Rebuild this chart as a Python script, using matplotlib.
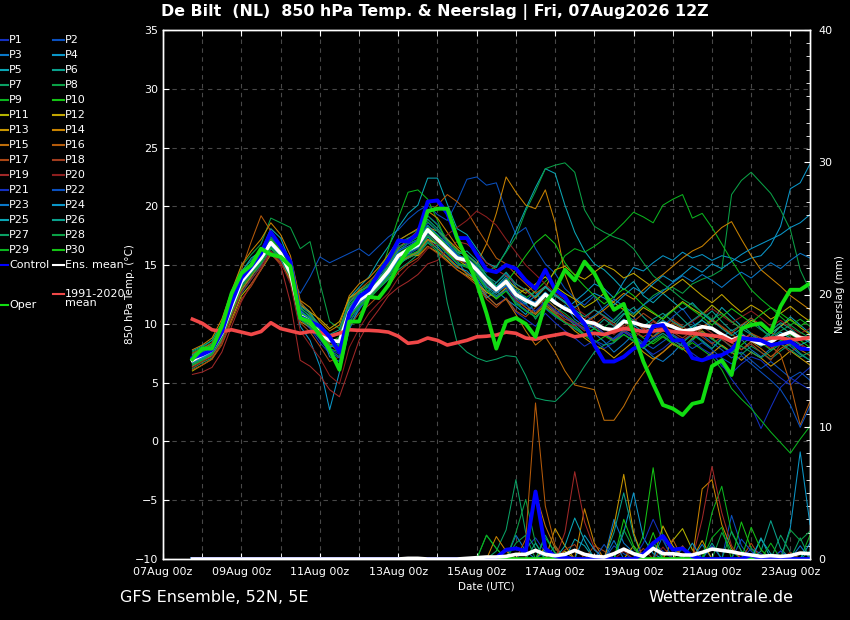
import pandas as pd
import matplotlib
matplotlib.use('Agg')
import matplotlib.pyplot as plt
import matplotlib.dates as mdates
from matplotlib.lines import Line2D
from matplotlib.ticker import MultipleLocator

# GFS ensemble De Bilt, run 07Aug2026 12Z, 6-hourly from 07Aug 18z to 23Aug 12z
times = pd.date_range('2026-08-07 18:00', periods=64, freq='6h')
rr_start = 26  # member precip listed from 14Aug 06z on (zero before)

member_names = ['P%d' % k for k in range(1, 31)]
cols_a = ['#1430c0', '#0a50be', '#0a78c8', '#0a96c8', '#0aa5b4',
          '#0aa08c', '#0aa064', '#0aa046', '#0ab41e', '#14c314']
cols_b = ['#b4b400', '#c3a500', '#c89600', '#c88200', '#be6e0a',
          '#b45a0a', '#aa4614', '#a03c1e', '#a02828', '#8c1e1e']
member_colors = cols_a + cols_b + cols_a

# 850 hPa temperature (C)
t01 = [6.6,7.1,7.6,8.9,11.2,13.4,14.6,15.9,17.6,16.8,15.0,10.4,9.6,8.4,7.5,7.9,
       10.6,12.2,13.0,14.1,15.2,16.6,17.0,17.9,19.2,18.5,16.9,15.8,15.0,13.8,12.4,11.6,
       12.2,11.0,10.4,9.8,10.9,10.1,9.4,8.8,8.1,8.6,7.9,8.4,9.3,8.8,8.0,7.4,
       7.9,8.6,8.2,7.5,6.9,7.6,6.4,5.8,6.6,7.2,6.9,6.1,5.4,4.8,5.6,6.3]
t02 = [7.2,7.6,8.0,9.5,11.8,13.6,14.4,15.1,16.0,15.4,14.0,12.6,14.0,15.7,15.2,15.6,
       16.0,16.4,15.8,16.6,17.4,18.0,18.9,19.6,20.1,19.3,18.8,20.4,22.3,22.5,21.8,22.0,
       19.6,17.6,18.2,16.4,15.1,14.3,13.0,12.2,11.6,12.4,11.0,10.3,11.2,10.6,9.4,8.9,
       9.8,10.6,11.3,10.2,9.1,8.4,7.8,7.1,7.6,6.9,6.2,6.8,6.1,5.4,5.9,5.2]
t03 = [6.4,6.9,7.3,8.6,10.8,12.6,13.8,14.9,16.4,15.8,14.6,11.2,10.3,9.4,7.2,6.8,
       9.8,11.2,12.4,13.2,14.4,15.1,15.6,16.2,17.1,16.8,16.0,15.4,14.2,13.9,12.6,13.5,
       14.3,13.2,11.9,12.8,11.4,10.8,11.6,10.4,9.8,9.2,8.5,7.6,8.3,9.1,8.0,7.2,
       6.8,7.5,8.4,9.2,8.6,7.9,8.8,9.5,8.7,7.8,7.2,7.9,8.6,8.1,7.4,6.9]
t04 = [6.9,7.2,7.5,8.7,11.0,12.9,14.0,15.2,16.6,15.5,13.6,9.8,8.6,6.4,2.7,5.9,
       9.5,11.4,12.1,13.0,13.8,14.9,15.8,16.1,17.4,16.6,15.6,14.8,14.5,13.6,12.2,12.8,
       12.1,11.5,10.8,11.9,12.7,12.0,11.2,11.9,12.6,13.4,13.0,12.2,13.6,14.8,14.5,15.2,
       15.8,15.4,16.1,15.6,15.9,15.4,15.8,15.6,15.2,15.6,15.8,16.7,18.3,21.5,22.0,23.6]
t05 = [7.4,7.9,8.3,9.8,12.2,14.4,15.6,16.2,18.1,17.3,15.2,11.8,11.0,9.6,8.0,8.8,
       12.2,13.1,14.0,15.4,16.6,18.2,19.4,20.1,22.4,22.4,20.2,18.1,17.6,16.4,15.2,14.8,
       16.2,17.9,19.8,21.6,23.2,22.8,20.1,17.8,16.2,15.1,14.6,13.8,12.9,13.6,12.4,11.8,
       12.6,11.9,11.2,11.8,10.9,10.2,11.4,10.6,9.8,10.5,9.6,8.9,9.8,10.6,9.9,9.2]
t06 = [7.0,7.4,8.1,9.4,11.9,13.9,14.8,15.8,17.2,16.3,14.9,11.4,10.6,9.8,8.9,8.2,
       11.4,12.6,12.9,13.8,14.9,16.3,16.8,17.2,18.4,17.6,16.6,15.9,16.2,15.4,14.1,13.2,
       14.1,12.8,12.3,10.9,11.8,11.0,10.6,9.9,9.1,9.6,10.4,9.8,10.8,11.4,10.6,9.8,
       10.6,11.2,10.4,9.6,10.4,11.1,10.2,9.4,9.9,9.2,8.6,9.4,10.1,9.6,8.9,8.4]
t07 = [6.2,6.7,7.1,8.5,10.6,12.8,14.1,15.0,16.2,15.6,14.1,10.9,9.8,8.8,7.8,7.2,
       10.4,11.6,12.3,13.0,13.8,14.6,15.2,15.9,16.9,16.2,15.6,14.9,15.1,14.2,13.1,12.4,
       13.0,11.6,11.8,10.4,11.6,12.4,11.9,10.8,10.3,9.6,9.1,8.6,9.4,8.8,8.2,8.9,
       9.6,9.0,8.4,9.1,8.5,7.9,8.7,8.0,7.4,8.1,7.6,7.0,7.7,8.3,7.5,6.9]
t08 = [7.6,8.0,8.6,10.1,12.6,14.9,15.9,16.8,19.0,18.6,18.2,16.4,17.0,13.5,10.2,9.6,
       12.0,12.9,13.4,14.6,15.9,17.1,17.6,18.0,19.2,18.4,17.2,16.3,15.8,15.1,13.9,13.2,
       13.8,12.6,12.1,11.4,12.2,11.4,10.9,10.2,9.6,10.1,9.7,10.4,11.2,10.8,11.6,12.4,
       12.9,13.1,12.6,13.4,13.8,14.1,14.6,21.0,22.2,22.9,22.0,21.1,19.7,18.0,14.6,12.8]
t09 = [6.8,7.3,7.9,9.3,11.6,13.8,14.9,15.6,16.8,16.1,14.5,10.6,10.1,9.0,8.4,8.9,
       11.2,12.2,12.8,13.8,16.4,19.0,21.2,21.4,20.6,18.8,16.8,16.0,15.4,14.9,13.8,13.1,
       13.4,12.9,12.2,12.8,13.6,14.4,15.8,16.4,16.1,16.6,17.2,17.8,18.6,19.5,19.1,18.6,
       20.1,20.6,21.0,19.0,19.4,18.2,16.8,15.4,14.1,12.9,12.1,11.4,10.6,9.9,10.4,9.8]
t10 = [7.1,7.6,8.0,9.6,12.0,14.2,15.1,15.9,17.0,16.4,14.8,11.0,10.4,9.3,8.1,6.4,
       10.1,11.4,12.2,13.2,14.4,15.5,16.1,16.5,17.8,17.0,16.2,15.1,14.8,14.3,12.9,12.1,
       12.8,11.9,11.1,10.6,11.4,10.8,10.1,9.6,9.0,8.4,8.9,9.5,10.2,9.4,8.8,8.3,
       8.9,8.3,7.8,8.6,9.4,8.8,8.1,7.6,8.2,8.9,8.4,7.8,8.5,9.1,8.6,8.0]
t11 = [6.0,6.5,7.0,8.4,10.4,12.4,13.4,14.6,15.9,15.2,13.8,10.4,9.9,9.1,8.6,7.9,
       10.9,12.1,12.4,13.2,14.1,15.4,15.6,16.0,17.2,16.8,16.1,15.5,14.9,14.5,13.4,12.9,
       13.8,13.1,12.6,13.4,14.0,13.2,12.6,12.1,11.4,11.9,12.6,11.8,11.2,10.6,11.4,10.9,
       10.4,11.2,11.9,11.3,10.8,11.6,10.9,10.2,9.6,10.3,9.9,9.2,9.8,10.4,9.7,9.1]
t12 = [7.3,7.8,8.2,9.4,11.7,13.7,14.7,15.7,17.0,16.2,14.6,11.6,11.0,10.4,9.6,10.2,
       12.2,12.8,13.2,13.9,14.8,15.6,16.0,15.8,16.6,16.1,15.4,14.6,14.1,13.5,12.7,12.2,
       13.1,12.4,13.0,12.2,13.1,14.6,14.9,14.2,13.8,14.4,15.0,14.6,13.9,14.3,13.7,13.1,
       12.6,13.2,13.8,13.1,12.4,11.8,12.5,11.7,11.0,11.6,11.1,10.4,10.9,11.5,10.8,10.2]
t13 = [6.6,7.0,7.5,8.8,11.1,13.1,14.2,15.3,16.5,15.7,14.0,10.2,9.7,8.9,8.2,8.6,
       11.3,12.4,12.9,13.6,14.6,15.9,16.4,16.9,18.2,17.9,17.2,16.4,15.6,14.8,13.6,12.8,
       13.4,12.2,11.4,10.8,11.6,10.9,10.2,9.4,8.8,8.2,7.8,7.1,7.8,8.5,7.6,7.0,
       7.6,8.3,7.9,7.2,6.8,7.5,8.2,7.6,6.9,7.6,7.1,6.4,7.0,7.7,7.1,6.5]
t14 = [7.8,8.2,8.8,10.4,12.8,15.0,16.2,17.2,18.6,17.6,15.8,12.0,11.4,10.2,9.4,9.9,
       12.4,13.4,13.9,14.8,15.9,17.1,17.6,18.1,19.6,19.0,17.8,16.6,15.9,15.1,16.8,19.4,
       22.5,21.2,20.1,19.8,21.4,18.6,14.2,12.1,10.1,10.6,11.2,11.9,12.6,12.1,12.9,13.6,
       14.2,14.9,15.6,16.2,16.6,17.4,18.2,18.7,17.2,15.8,14.6,13.9,13.2,12.4,11.8,11.2]
t15 = [6.4,6.8,7.3,8.7,10.9,12.9,14.0,15.4,17.1,16.0,14.3,10.9,10.2,9.1,8.3,7.6,
       10.6,11.7,12.2,13.1,14.0,15.2,15.7,16.1,17.2,16.4,15.7,14.9,14.3,13.6,12.4,11.6,
       12.1,10.8,9.4,8.2,8.9,7.6,6.0,4.8,4.6,4.4,1.8,1.8,3.0,4.6,5.8,6.9,
       7.6,8.4,7.9,8.8,9.4,8.7,9.2,8.4,7.8,8.5,7.9,7.2,7.9,8.4,7.8,7.3]
t16 = [7.5,7.9,8.4,9.8,12.2,14.6,17.0,19.2,17.9,16.2,15.6,11.9,10.8,9.6,8.8,9.2,
       11.8,12.9,13.6,14.4,15.1,16.4,17.2,17.9,19.4,20.1,21.0,20.4,19.6,18.2,16.9,15.6,
       15.1,14.2,13.4,12.6,13.2,12.4,11.8,11.0,10.4,9.8,9.2,8.6,9.4,10.1,9.6,8.9,
       9.4,10.1,9.6,8.9,9.6,10.3,9.7,9.1,8.6,9.2,8.8,8.1,7.4,4.9,1.4,3.4]
t17 = [6.1,6.5,7.0,8.2,10.2,12.1,13.2,14.6,16.1,15.2,13.6,10.1,9.3,8.1,6.8,7.2,
       9.8,10.9,11.6,12.4,13.2,14.4,15.1,15.6,16.6,16.0,15.3,14.6,14.0,13.3,12.1,11.4,
       12.2,11.1,10.6,11.4,12.1,11.4,10.7,10.1,9.4,9.9,10.6,10.1,9.5,10.2,10.9,10.3,
       9.7,10.4,9.8,9.1,9.7,10.4,9.8,9.2,9.9,10.5,9.9,9.3,8.8,9.4,9.0,8.6]
t18 = [6.8,7.3,7.7,9.1,11.4,13.5,14.5,15.5,16.8,15.9,14.3,10.6,10.0,9.0,8.2,8.0,
       10.9,11.9,12.5,13.4,14.3,15.6,16.2,16.4,17.6,16.9,16.2,15.4,15.2,14.4,13.3,12.6,
       13.2,12.0,11.4,10.9,11.8,11.1,10.4,10.1,9.6,10.2,9.6,9.2,9.9,9.4,8.9,9.4,
       9.9,9.3,8.8,9.4,8.9,8.3,8.9,8.4,7.8,8.3,7.6,6.9,8.3,7.6,8.2,7.7]
t19 = [5.7,5.9,6.3,7.6,9.8,11.9,13.4,14.7,16.0,15.0,11.8,6.9,6.4,5.6,4.4,3.8,
       6.2,8.6,10.1,11.2,12.4,13.1,13.6,14.2,15.1,15.4,16.3,17.0,16.8,16.1,15.2,14.6,
       14.1,13.4,12.8,12.1,11.4,10.9,10.2,9.8,10.4,11.2,10.6,9.9,9.4,8.8,9.5,10.2,
       9.6,9.1,8.6,9.2,9.8,9.2,8.7,8.1,8.6,9.1,8.5,7.9,8.4,8.9,8.3,7.8]
t20 = [6.3,6.8,7.2,8.4,10.6,12.7,13.8,14.9,16.2,15.3,13.4,9.4,8.2,7.1,5.6,4.9,
       8.0,9.6,10.9,11.8,12.6,13.9,14.8,15.4,16.4,16.8,17.6,18.2,18.8,19.6,19.1,18.4,
       17.2,16.1,15.0,14.2,13.4,12.6,12.1,11.4,10.8,10.2,9.6,9.1,9.8,10.4,9.8,9.2,
       9.8,10.3,9.7,10.2,10.8,11.3,10.7,10.1,10.6,11.1,10.5,9.8,10.3,9.7,9.2,9.6]
t21 = [7.0,7.4,7.8,9.2,11.6,13.8,14.8,15.7,17.3,16.6,14.9,10.8,10.1,9.0,7.9,7.4,
       10.8,11.8,12.6,13.6,14.6,16.1,16.8,17.1,18.6,17.9,16.9,15.9,15.4,14.6,13.4,12.8,
       13.2,12.1,11.6,11.1,11.9,11.2,10.6,10.1,9.5,9.9,9.2,8.7,9.3,8.8,8.3,8.8,
       9.2,8.6,8.1,8.6,7.9,7.4,6.6,5.3,4.2,3.0,1.1,2.9,4.6,5.4,4.9,4.4]
t22 = [6.5,7.0,7.4,8.8,11.1,13.2,14.3,15.3,16.6,15.7,14.1,10.4,9.7,8.7,7.6,7.1,
       10.2,11.4,12.1,13.1,14.1,15.4,15.9,16.4,17.6,16.8,15.9,15.1,14.9,14.1,12.9,12.3,
       12.9,11.8,11.2,10.6,11.3,10.6,10.1,9.6,9.1,8.6,8.2,8.8,9.5,9.0,8.4,7.9,
       8.5,9.1,8.5,7.9,8.4,7.8,7.1,6.6,7.3,6.6,5.9,5.2,4.4,3.1,1.2,3.0]
t23 = [7.2,7.7,8.1,9.6,11.9,14.0,14.9,15.8,17.0,16.1,14.5,11.1,10.5,9.5,8.7,8.4,
       11.3,12.4,13.0,13.9,14.9,16.2,16.6,17.1,18.3,17.6,16.8,15.8,15.6,14.9,13.8,13.1,
       13.9,12.8,12.2,11.8,12.6,11.9,11.3,10.8,10.2,10.7,11.4,12.1,11.5,10.9,11.6,12.2,
       12.8,13.5,14.1,13.6,14.2,13.7,13.1,13.8,14.4,13.9,14.6,15.2,14.7,15.4,16.0,15.6]
t24 = [6.7,7.1,7.6,9.0,11.3,13.4,14.4,15.4,16.7,15.8,14.2,10.5,10.0,8.9,8.0,8.3,
       10.7,11.7,12.4,13.3,14.2,15.5,16.0,16.6,17.9,17.1,16.3,15.5,15.3,14.4,13.2,12.6,
       13.3,12.3,11.7,12.4,13.2,12.5,11.9,11.4,12.0,12.6,12.2,11.6,12.4,13.1,12.6,13.4,
       14.1,13.6,14.2,14.9,14.4,15.1,14.7,15.3,15.9,16.4,16.8,17.2,17.6,18.2,18.6,19.3]
t25 = [6.9,7.3,7.7,9.1,11.5,13.5,14.5,15.5,16.7,15.9,14.4,10.8,10.2,9.3,8.7,8.4,
       11.0,12.0,12.6,13.5,14.4,15.7,16.1,16.5,17.8,17.1,16.4,15.7,15.5,14.7,13.6,12.9,
       13.6,12.6,12.0,11.5,12.4,11.7,11.2,10.8,10.1,9.6,9.1,9.7,10.4,9.9,9.3,9.8,
       10.3,9.8,9.2,9.8,10.3,9.7,9.1,8.6,9.2,8.6,8.1,8.7,9.3,8.8,8.2,8.6]
t26 = [7.7,8.1,8.6,10.0,12.4,14.5,15.4,16.3,17.6,16.7,15.1,11.5,10.9,9.9,9.1,9.5,
       11.8,12.7,13.3,14.2,15.3,16.8,17.3,17.6,18.9,18.1,17.1,16.1,15.9,15.2,14.1,13.5,
       14.4,13.4,12.9,12.3,13.1,12.4,11.8,11.2,10.6,11.2,10.7,10.1,10.9,10.3,9.8,10.4,
       10.9,10.2,9.7,10.3,10.9,10.3,9.6,9.0,9.6,9.1,8.5,9.2,9.8,9.2,8.6,9.0]
t27 = [6.6,7.0,7.5,8.9,11.2,13.3,14.4,15.3,16.4,15.6,14.0,10.6,10.1,9.1,8.2,8.0,
       10.7,11.6,12.2,13.1,14.0,15.1,15.6,16.0,17.0,16.4,11.8,8.4,7.6,7.1,6.8,7.0,
       7.3,7.2,5.6,3.7,3.5,3.4,4.2,5.1,6.4,7.6,8.2,8.4,9.1,8.5,7.9,8.6,
       9.2,8.6,8.1,8.7,9.3,8.7,8.1,7.5,8.1,7.6,7.1,7.7,8.3,7.8,7.2,7.6]
t28 = [7.3,7.7,8.3,9.7,12.1,14.2,15.2,16.1,17.4,16.5,14.9,11.3,10.7,9.7,8.9,9.1,
       11.6,12.6,13.2,14.1,15.0,16.5,16.9,17.4,18.7,17.9,17.0,16.2,15.9,15.0,14.4,14.9,
       16.1,17.4,19.6,21.3,23.2,23.5,23.7,22.9,19.7,18.3,17.8,17.4,17.1,16.4,15.2,14.1,
       13.4,12.8,12.1,11.6,11.0,10.4,10.9,10.2,9.6,10.1,9.5,8.9,9.4,9.9,9.3,8.8]
t29 = [6.5,6.9,7.4,8.8,11.0,13.1,14.2,15.2,16.5,15.7,14.1,10.4,9.8,8.8,7.9,7.6,
       10.5,11.5,12.1,13.0,14.0,15.3,15.8,16.2,17.5,16.8,16.0,15.2,14.9,14.1,12.9,12.2,
       12.8,11.7,11.1,10.6,11.4,10.7,10.1,9.7,9.1,9.6,9.0,8.5,9.1,8.6,8.0,8.5,
       9.0,8.4,7.8,8.4,7.8,7.2,6.1,4.5,3.6,2.8,1.8,0.8,-0.1,-1.0,0.2,1.3]
t30 = [7.0,7.5,7.9,9.3,11.7,13.9,15.0,16.0,17.2,16.3,14.6,10.9,10.4,9.5,8.6,8.1,
       11.1,12.2,12.8,13.7,14.8,16.0,16.5,17.0,18.2,17.5,16.6,15.7,15.4,14.6,13.5,12.8,
       13.5,14.6,15.8,16.9,17.6,16.8,15.2,14.1,13.2,12.4,11.7,12.3,13.0,12.4,11.6,11.0,
       10.4,11.1,11.8,11.2,10.6,9.9,10.6,11.3,10.7,10.1,10.8,11.4,10.9,10.3,9.8,10.4]
t_members = [t01, t02, t03, t04, t05, t06, t07, t08, t09, t10,
             t11, t12, t13, t14, t15, t16, t17, t18, t19, t20,
             t21, t22, t23, t24, t25, t26, t27, t28, t29, t30]

t_control = [7.1,7.4,7.8,9.3,11.8,13.9,14.9,16.0,17.8,16.6,15.3,10.6,10.2,9.8,8.9,7.6,
             10.9,12.3,12.9,14.3,15.5,17.1,17.0,17.7,20.4,20.5,19.4,17.3,17.3,15.9,14.6,14.4,
             15.0,14.7,13.7,13.0,14.6,12.9,12.3,11.0,10.0,8.2,6.8,6.8,7.2,7.9,8.2,9.8,
             9.9,8.6,8.6,7.1,6.9,7.2,7.35,7.8,8.8,8.7,8.6,8.2,8.35,8.5,7.9,7.85]
t_oper = [7.0,7.9,7.9,9.8,12.6,14.3,15.0,16.4,15.9,15.7,14.9,10.5,10.2,9.05,7.8,6.1,
          10.2,10.2,12.3,12.2,13.3,15.0,16.3,16.9,19.6,19.8,19.8,17.3,15.5,13.5,10.9,7.9,
          10.2,10.5,10.0,8.9,11.75,12.9,14.6,13.7,15.3,14.3,12.7,11.2,11.7,9.2,6.8,4.9,
          3.1,2.8,2.25,3.2,3.4,6.4,6.9,5.65,9.6,9.9,10.05,9.3,11.5,12.9,12.9,13.45]
t_mean = [6.9,7.35,7.8,9.2,11.5,13.6,14.6,15.6,16.9,16.0,14.3,10.7,10.2,9.2,8.6,8.5,
          11.0,12.0,12.6,13.5,14.5,15.8,16.3,16.7,18.0,17.2,16.4,15.6,15.4,14.6,13.7,12.9,
          13.6,12.5,12.0,11.6,12.5,11.8,11.3,10.9,10.2,10.05,9.6,9.5,10.2,10.1,9.85,9.76,
          10.05,9.76,9.4,9.5,9.76,9.62,9.1,8.63,8.9,8.65,8.3,8.45,9.0,9.3,8.8,8.75]
t_clim = [10.4,10.05,9.5,9.35,9.5,9.3,9.1,9.35,10.1,9.6,9.4,9.2,9.35,9.3,8.95,9.2,
          9.5,9.45,9.45,9.4,9.3,8.95,8.35,8.45,8.8,8.6,8.2,8.4,8.6,8.9,8.95,9.05,
          9.3,9.2,8.8,8.7,8.9,9.05,9.2,8.9,9.05,9.2,9.1,9.35,9.6,9.5,9.35,9.4,
          9.5,9.35,9.25,9.2,9.1,9.0,8.9,8.5,8.9,8.7,8.65,8.8,8.8,8.65,8.7,8.85]

# precipitation per 6h (mm), members from times[rr_start:]
r01 = [0,0,0,0,0,0,0,0,0.8,1.6, 0.5,0,0,0,0,0,0,0,0,0, 0,1.2,0.6,0,0,0,0,1.0,0,0, 0,0.8,0.4,0,0,0,0,0]
r02 = [0,0,0,0,0,0,0,0,0,0, 0,0,0,0,0,0,0,1.0,0.4,0, 0,0,0,0,0,0,0,0,0,3.3, 1.0,0,0,0,0.6,0,0,0]
r03 = [0,0,0,0,0,0,0,1.8,0.6,0, 0,0,0,0,0,0,0,3.0,1.2,0.5, 0,0,0,0,0,0,1.1,0,0,0, 0,0,0,0,0,0,0,0]
r04 = [0,0,0,0,0,0,0,0,0,0, 0,0,0,0,0,0,0,0,2.0,5.0, 1.6,0.4,0,0,0,0,0,0,0,0, 0,0,0,0,0,2.4,8.1,2.6]
r05 = [0,0,0,0,0,0,0,0,0,0, 0.7,0,0,1.5,1.0,0,0,0,0,0, 0,0,0,0,0.8,0,0,0,0,0, 0,0,1.5,0.4,0,0,0,0]
r06 = [0,0,0,0,0,0,0,0,0,0, 0,1.0,0,0,0,0,0,2.0,5.0,1.8, 0,0,0,0,0,0,0,1.2,0,0, 0,0,0,0,0,0,0,0]
r07 = [0,0,0,0,0,0.6,2.2,6.0,2.0,0.8, 0,0,0,0,0,0,0,0,0,0, 0,1.3,0,0,0,0,0,0,0,0, 0,0,0,0,1.8,0.5,0,0]
r08 = [0,0,0,0,1.8,0.8,0,2.0,4.5,1.2, 0,0,0,0,0,0,0,0,0,0, 0,0,0,0,0,0,0,0,2.0,0.6, 0,0,0,0,0,0,0,0]
r09 = [0,0,0,0,0,0,0,0,0,0, 1.6,0.5,0,0,0,0,0,0,0,0, 0,0,0,0,0,0,0,3.5,5.5,2.0, 0.6,0,0,0,0,0,0,1.8]
r10 = [0,0,0,0,0,0,0,0,0,0, 0,0,0,0,0,0,0,0,0,0, 1.8,6.9,1.5,0,0,0,0,0,0,0, 2.8,0.8,0,0,0,0,0,0]
r11 = [0,0,0,0,0,0,0,0,0,0, 0,0,0.6,0,0,0,0,0,0,0, 0,0,0,1.4,2.3,0.7,0,0,0,0, 0,0,0,0,0,0,0,0]
r12 = [0,0,0,0,0,0,0,0,0,0, 0.9,0,0,0,0,0,0,0,0,1.0, 0,0,2.5,1.0,0,0,0,0,0,0, 0,0,0,0,0,0,0,0]
r13 = [0,0,0,0,0,0,0,0,0,0, 0,2.3,1.0,0,0,0,0,2.5,6.4,2.0, 0,0,0,0,0,0,1.4,0,0,0, 0,0,0,0,0,0,0,0]
r14 = [0,0,0,0,0,1.7,0.6,0,0,0, 0,0,0,0,3.8,1.2,0,0,0,0, 0,0,0,0,0,0,5.3,6.0,2.6,0.8, 0,0,0,0,0,0,0,0]
r15 = [0,0,0,0,0,0,0,0,0,5.0, 2.5,0.8,0,0,0,0,0,0,0,0, 0,0,0,0,1.0,0,0,0,0,0, 0,0,0,0,0,0,0,0]
r16 = [0,0,0,0,0,0,0,0,1.5,11.8, 4.0,1.0,0,0,0,0,0,0,0,0, 0,0,0,1.5,0,0,0,0,0,0, 0,0,0,0,0,0,0,0]
r17 = [0,0,0,0,0,0,0,0,0,0, 0,0,0,0,0,1.0,0.6,0,0,0, 0,0,0,0,0,0,0,0,0,0, 0,1.2,0,0,0,0,0,0]
r18 = [0,0,0,0,0,0,0,0,0,0, 0,0,0.7,1.1,0,0,0,0,0,0, 0.8,0,0,0,0,0,0,0,0,0, 0,0,0,0,0,0.5,0,0]
r19 = [0,0,0,0,0,0,0,0,0,0, 0,0,2.0,6.6,2.8,0.8,0,0,0,0, 0,0,0,0,0,0,3.0,7.0,3.5,1.0, 0,0,0,0,0,0,0,0]
r20 = [0,0,0,0,0,0,0,0,0,0, 0,0,0,0,0,0,0,0,0.6,0, 0,0,0.9,0,0,0,0,0,0,0, 0,0,0,0,0,0,0,0]
r21 = [0,0,0,0,0,0,0,0,0,0, 0,0,0,0,0,0,0,0,0,0, 1.2,3.0,1.4,0,0,0,0,0,0,0, 0,0,0,0,0.6,0,0,0]
r22 = [0,0,0,0,0,0,0,0,0,0, 0.6,0,0,0,0,0,1.1,0,0,0, 0,0,0,0,0,0,0,0,0,0, 1.5,0.6,0,0,0,0,0,0]
r23 = [0,0,0,0,0,0,0,0,0,0, 0,0,0,0,0,0,0,1.4,0,0, 0,0,1.8,0.8,0,0,0,0,0,0, 0,0,0,0,0,0,1.0,0]
r24 = [0,0,0,0,0,0,0,0,0,0, 0,0,0,0,1.8,0.7,0,0,0,0, 0,0,0,0,0,1.2,0,0,0,0, 0,0,0,0,0,0,0,1.2]
r25 = [0,0,0,0,0,0,0,0,0,0, 0,0,1.0,3.1,1.4,0,0,0,0,0, 0,0,0,0,0,0,0,0,0,0, 0,0,1.6,0,0,0,0,0]
r26 = [0,0,0,0,0,0,0,0,0,1.2, 0,0,0,0,0,0,0,0,0,0, 0,1.0,0,0,0,0,0,0,0,0, 0,0,0.6,2.9,0.8,0,0,0.6]
r27 = [0,0,0,0,0,0,0,0,0,0, 1.8,0.4,0,0,0,0,0,0,0,0, 0,0,0,0,0,0,0,0,0,2.1, 0.6,0,0,0,0,0,1.6,0]
r28 = [0,0,0,0,0,0,0,1.2,1.8,0, 0,0,0,0,0,0,0,0,2.2,0.8, 0,0,0,0,0,0,0,0,0,0, 0,0,0,0,0,2.2,1.4,2.1]
r29 = [0,0,0,0,1.8,0.8,0,0,0,0, 0,0,0,0,0,0,0,0,0,0, 0,0,0,0,0,0,0,1.6,2.4,0, 0,0,0,1.2,0,0,0,0]
r30 = [0,0,0,0,0,0,0,0,0,0, 0,0,0,0,0,0,0,0,3.0,1.0, 0,2.0,0,0,0,0,0,0,0,0, 0,2.4,0.7,0,0,0,0,0]
rr_members = [r01, r02, r03, r04, r05, r06, r07, r08, r09, r10,
              r11, r12, r13, r14, r15, r16, r17, r18, r19, r20,
              r21, r22, r23, r24, r25, r26, r27, r28, r29, r30]

rr_control = [0,0,0,0,0,0,0,0,0,0,0,0,0,0,0,0,
              0,0,0,0,0,0,0,0,0,0,0,0,0,0,0,0.1,
              0.7,0.8,0.6,5.1,0.8,0.2,0.1,0,0,0,0,0,0,0,0.4,1.2,
              1.74,0.7,0.8,0.2,0,0,0,0,0,0.3,0,0,0,0,0,0]
rr_oper = [0,0,0,0,0,0,0,0,0,0,0,0,0,0,0,0,
           0,0,0,0,0,0,0,0,0,0,0,0,0,0,0,0,
           0,0,0,0,0,0,0,0,0,0,0,0,0,0,0,0,
           0,0,0,0,0,0,0,0,0,0,0,0,0,0,0,0]
rr_mean = [0,0,0,0,0,0,0,0,0,0,0,0,0,0,0,0,
           0,0,0,0,0,0,0.05,0.05,0,0,0,0,0.05,0.1,0.15,0.15,
           0.2,0.35,0.35,0.65,0.35,0.25,0.35,0.65,0.35,0.2,0.15,0.4,0.75,0.4,0.2,0.8,
           0.4,0.4,0.3,0.3,0.5,0.75,0.65,0.55,0.4,0.3,0.2,0.25,0.2,0.25,0.45,0.4]

W, H = 850, 620
fig = plt.figure(figsize=(W / 100, H / 100), dpi=100, facecolor='black')
ax = fig.add_axes([163 / W, 61 / H, 647 / W, 529 / H])
ax.set_facecolor('black')
ax2 = ax.twinx()

for temps, c in zip(t_members, member_colors):
    ax.plot(times, temps, color=c, lw=0.75)
ax.plot(times, t_mean, color='white', lw=2.6)
ax.plot(times, t_clim, color='#f04848', lw=2.6)
ax.plot(times, t_control, color='#0000ff', lw=2.8)
ax.plot(times, t_oper, color='#11dd11', lw=2.8)

for rr, c in zip(rr_members, member_colors):
    ax2.plot(times[rr_start:], rr, color=c, lw=0.75)
ax2.plot(times, rr_oper, color='#11dd11', lw=2.6)
ax2.plot(times, rr_control, color='#0000ff', lw=2.8)
ax2.plot(times, rr_mean, color='white', lw=2.6)

ax.set_xlim(pd.Timestamp('2026-08-07'), pd.Timestamp('2026-08-23 12:00'))
ax.set_ylim(-10, 35)
ax2.set_ylim(0, 40)
ax.set_yticks(range(-10, 36, 5))
ax.set_xticks(pd.date_range('2026-08-07', '2026-08-23', freq='2D'))
ax.set_xticks(pd.date_range('2026-08-08', '2026-08-22', freq='2D'), minor=True)
ax.xaxis.set_major_formatter(mdates.DateFormatter('%d%b %Hz'))
ax2.set_yticks(range(0, 41, 10))
ax2.yaxis.set_minor_locator(MultipleLocator(1))

grid_kw = dict(color='#484848', lw=0.8, ls=(0, (4, 4)))
ax.grid(which='both', axis='x', **grid_kw)
ax.grid(which='major', axis='y', **grid_kw)
ax.set_axisbelow(True)

for a in (ax, ax2):
    for sp in a.spines.values():
        sp.set_color('white')
        sp.set_linewidth(1.0)
ax.tick_params(axis='both', which='both', direction='in', colors='white',
               labelsize=8, top=True, length=4)
ax.tick_params(axis='x', pad=6)
ax2.tick_params(axis='y', which='both', direction='in', colors='white',
                labelsize=8, length=4, pad=6)
ax2.tick_params(axis='y', which='minor', length=3)

ax.set_ylabel('850 hPa Temp. (°C)', color='white', fontsize=7.5)
ax.yaxis.set_label_coords(-0.0433, 0.5)
ax.set_xlabel('Date (UTC)', color='white', fontsize=7.5, labelpad=3)
ax2.set_ylabel('Neerslag (mm)', color='white', fontsize=7.5)
ax2.yaxis.set_label_coords(1.0387, 0.5)

fig.text(0.512, 1 - 12 / H, 'De Bilt  (NL)  850 hPa Temp. & Neerslag | Fri, 07Aug2026 12Z',
         color='white', fontsize=11.4, fontweight='bold', ha='center', va='center')
fig.text(120 / W, 1 - 598 / H, 'GFS Ensemble, 52N, 5E', color='white',
         fontsize=11.5, ha='left', va='center')
fig.text(793 / W, 1 - 598 / H, 'Wetterzentrale.de', color='white',
         fontsize=11.5, ha='right', va='center')

# legend drawn by hand, two columns at the left edge
legend_items = list(zip(member_names, member_colors))
legend_items += [('Control', '#0000ff'), ('Ens. mean', 'white')]
for k, (name, col) in enumerate(legend_items):
    row, colno = divmod(k, 2)
    ypx = 40 + 15 * row
    x0, x1 = (0, 8) if colno == 0 else (53, 64)
    fig.add_artist(Line2D([x0 / W, x1 / W], [1 - ypx / H] * 2, color=col, lw=1.5))
    fig.text((x1 + 1) / W, 1 - ypx / H, name, color='white', fontsize=8, va='center')
fig.add_artist(Line2D([53 / W, 64 / W], [1 - 294 / H] * 2, color='#f04848', lw=1.5))
fig.text(65 / W, 1 - 298.5 / H, '1991-2020\nmean', color='white', fontsize=8,
         va='center', linespacing=0.85)
fig.add_artist(Line2D([0, 8 / W], [1 - 305 / H] * 2, color='#11dd11', lw=1.5))
fig.text(9 / W, 1 - 305 / H, 'Oper', color='white', fontsize=8, va='center')

fig.savefig('out.png', dpi=100, facecolor='black')
